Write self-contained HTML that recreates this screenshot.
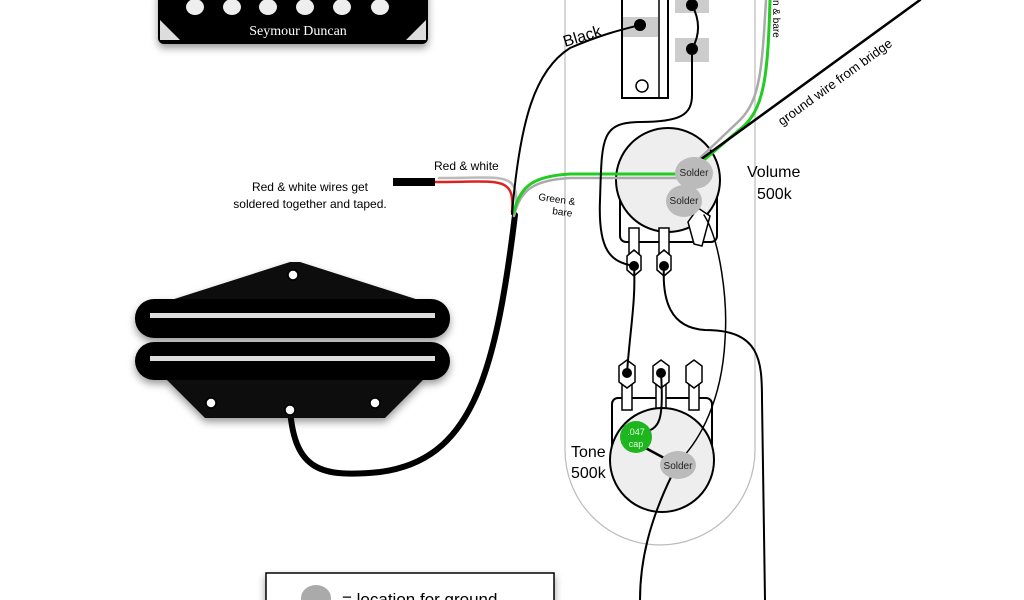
<!DOCTYPE html>
<html><head><meta charset="utf-8"><style>html,body{margin:0;padding:0;background:#fff;overflow:hidden}svg{display:block}</style></head>
<body>
<svg width="1024" height="600" viewBox="0 0 1024 600" xmlns="http://www.w3.org/2000/svg" font-family="Liberation Sans, sans-serif">
<defs><filter id="sh" x="-20%" y="-20%" width="140%" height="160%"><feDropShadow dx="0" dy="4" stdDeviation="4" flood-opacity="0.4"/></filter></defs>
<!-- humbucker -->
<g filter="url(#sh)">
<rect x="158" y="-12" width="270" height="56" rx="6" fill="#000"/>
</g>
<path d="M160 20 L160 40 L180 40 Z" fill="#ddd"/><path d="M426 20 L426 40 L406 40 Z" fill="#ddd"/>
<g fill="#eee"><ellipse cx="195" cy="7" rx="9" ry="8"/><ellipse cx="232" cy="7" rx="9" ry="8"/><ellipse cx="268" cy="7" rx="9" ry="8"/><ellipse cx="305" cy="7" rx="9" ry="8"/><ellipse cx="342" cy="7" rx="9" ry="8"/><ellipse cx="380" cy="7" rx="9" ry="8"/></g>
<text x="298" y="35" fill="#fff" font-family="Liberation Serif, serif" font-size="14" text-anchor="middle">Seymour Duncan</text>
<!-- control plate -->
<path d="M565 0 L565 450 A95 95 0 0 0 755 450 L755 0" fill="none" stroke="#bbb" stroke-width="1.2"/>
<!-- switch -->
<rect x="622" y="-2" width="46" height="100" fill="#fff" stroke="#000" stroke-width="2"/>
<line x1="659" y1="0" x2="659" y2="98" stroke="#000" stroke-width="1.5"/>
<rect x="623" y="17" width="35" height="20" fill="#ccc"/>
<rect x="675" y="0" width="34" height="13" fill="#ccc"/><rect x="675" y="38" width="34" height="24" fill="#ccc"/>
<circle cx="642" cy="86" r="6" fill="#fff" stroke="#000" stroke-width="1.5"/>
<circle cx="640" cy="25" r="6" fill="#000"/><circle cx="692" cy="5" r="6" fill="#000"/><circle cx="692" cy="49" r="6" fill="#000"/>
<path d="M692 5 C700 20 700 35 692 49" fill="none" stroke="#000" stroke-width="2"/>
<!-- volume pot -->
<rect x="620" y="160" width="97" height="82" rx="6" fill="#fff" stroke="#000" stroke-width="2"/>
<circle cx="668" cy="180" r="52" fill="#eee" stroke="#000" stroke-width="2"/>
<g fill="#fff" stroke="#000" stroke-width="1.5">
<rect x="629" y="228" width="10" height="30"/><rect x="659" y="228" width="10" height="30"/>
<path d="M627 256 l7 -6 l7 6 l0 14 l-7 6 l-7 -6 Z"/><path d="M657 256 l7 -6 l7 6 l0 14 l-7 6 l-7 -6 Z"/>
<path d="M688 222 l10 -14 l12 8 l-8 30 l-8 -2 Z"/>
</g>
<circle cx="634" cy="266" r="5" fill="#000"/><circle cx="664" cy="266" r="5" fill="#000"/>
<!-- tone pot -->
<rect x="612" y="398" width="100" height="60" rx="6" fill="#fff" stroke="#000" stroke-width="2"/>
<g fill="#fff" stroke="#000" stroke-width="1.5">
<rect x="622" y="380" width="10" height="30"/><rect x="656" y="380" width="10" height="30"/><rect x="689" y="380" width="10" height="30"/>
<path d="M619 366 l8 -6 l8 6 l0 16 l-8 6 l-8 -6 Z"/><path d="M653 366 l8 -6 l8 6 l0 16 l-8 6 l-8 -6 Z"/><path d="M686 366 l8 -6 l8 6 l0 16 l-8 6 l-8 -6 Z"/>
</g>
<circle cx="627" cy="373" r="5" fill="#000"/><circle cx="661" cy="373" r="5" fill="#000"/>
<circle cx="662" cy="460" r="52" fill="#eee" stroke="#000" stroke-width="2"/>
<!-- wires -->
<g fill="none" stroke-linecap="round">
<path d="M290 410 C295 470 320 478 380 472 C470 460 495 380 515 215" stroke="#000" stroke-width="6"/>
<path d="M512 212 C515 175 500 182 435 182" stroke="#bbb" stroke-width="2.5" transform="translate(4,-4)"/>
<path d="M512 212 C515 175 500 182 435 182" stroke="#d22" stroke-width="2.5"/>
<path d="M514 212 C520 185 535 176 570 174 L680 174" stroke="#aaa" stroke-width="2.5" transform="translate(0,4)"/>
<path d="M514 212 C520 185 535 176 570 174 L680 174" stroke="#2c2" stroke-width="3"/>
<path d="M512 214 C520 120 535 70 570 48 C600 35 620 30 640 25" stroke="#000" stroke-width="2"/>
<path d="M692 49 L692 95 C692 115 680 122 640 122 C600 122 602 140 600 200 C598 250 610 262 634 266" stroke="#000" stroke-width="2"/>
<path d="M766 0 C762 70 760 100 740 120 L700 158" stroke="#aaa" stroke-width="2.5"/>
<path d="M770 0 C768 70 765 105 745 125 L704 160" stroke="#2c2" stroke-width="3"/>
<path d="M920 0 L700 160" stroke="#000" stroke-width="2.5"/>
<path d="M634 266 C636 300 630 330 627 373" stroke="#000" stroke-width="2"/>
<path d="M664 266 C662 300 670 328 705 330 C760 330 762 360 762 400 L765 600" stroke="#000" stroke-width="2"/>
<path d="M704 215 C720 240 728 300 725 340 C722 400 700 440 680 460" stroke="#000" stroke-width="1.5"/>
<path d="M661 373 C664 420 660 430 642 432" stroke="#000" stroke-width="2"/>
<path d="M640 445 L677 465" stroke="#000" stroke-width="2.5"/>
<path d="M672 475 C650 520 640 560 640 600" stroke="#000" stroke-width="2"/>
</g>
<rect x="393" y="178" width="42" height="8" fill="#000"/>
<!-- solder blobs -->
<ellipse cx="694" cy="173" rx="19" ry="16" fill="#bbb"/>
<ellipse cx="684" cy="201" rx="18" ry="16" fill="#bbb"/>
<ellipse cx="678" cy="465" rx="18" ry="14" fill="#bbb"/>
<circle cx="636" cy="437" r="16" fill="#1fb51f"/>
<g font-size="10" fill="#222" text-anchor="middle">
<text x="694" y="176">Solder</text><text x="684" y="204">Solder</text><text x="678" y="469">Solder</text>
</g>
<text x="636" y="435" font-size="9" fill="#dfd" text-anchor="middle">.047</text>
<text x="636" y="447" font-size="9" fill="#dfd" text-anchor="middle">cap</text>
<!-- tele pickup -->
<g filter="url(#sh)">
<path d="M165 302 L290 262 L300 262 L425 302 Z" fill="#111"/>
<path d="M165 378 L425 378 L385 418 L205 418 Z" fill="#111"/>
<rect x="135" y="299" width="315" height="39" rx="19" fill="#000"/>
<rect x="135" y="342" width="315" height="38" rx="19" fill="#000"/>
</g>
<rect x="150" y="313" width="285" height="5" fill="#ddd"/>
<rect x="150" y="356" width="285" height="5" fill="#ddd"/>
<g fill="#fff" stroke="#000" stroke-width="1.5"><circle cx="293" cy="275" r="5"/><circle cx="211" cy="403" r="5"/><circle cx="375" cy="403" r="5"/><circle cx="290" cy="410" r="5"/></g>
<!-- labels -->
<text x="565" y="47" font-size="16" transform="rotate(-17 565 47)">Black</text>
<text x="434" y="170" font-size="12">Red &amp; white</text>
<text x="310" y="191" font-size="12" text-anchor="middle">Red &amp; white wires get</text>
<text x="310" y="208" font-size="12" text-anchor="middle">soldered together and taped.</text>
<text x="538" y="200" font-size="10" transform="rotate(8 538 200)">Green &amp;</text>
<text x="552" y="214" font-size="10" transform="rotate(8 552 214)">bare</text>
<text x="773" y="0" font-size="10" transform="rotate(90 773 0)">n &amp; bare</text>
<text x="782" y="126" font-size="13" transform="rotate(-36 782 126)">ground wire from bridge</text>
<text x="747" y="177" font-size="16">Volume</text>
<text x="757" y="199" font-size="16">500k</text>
<text x="571" y="457" font-size="16">Tone</text>
<text x="571" y="478" font-size="16">500k</text>
<!-- legend -->
<rect x="266" y="573" width="288" height="40" fill="#fff" stroke="#000" stroke-width="1.5" filter="url(#sh)"/>
<ellipse cx="316" cy="598" rx="15" ry="13" fill="#aaa"/>
<text x="342" y="605" font-size="17">= location for ground</text>
</svg>
</body></html>
